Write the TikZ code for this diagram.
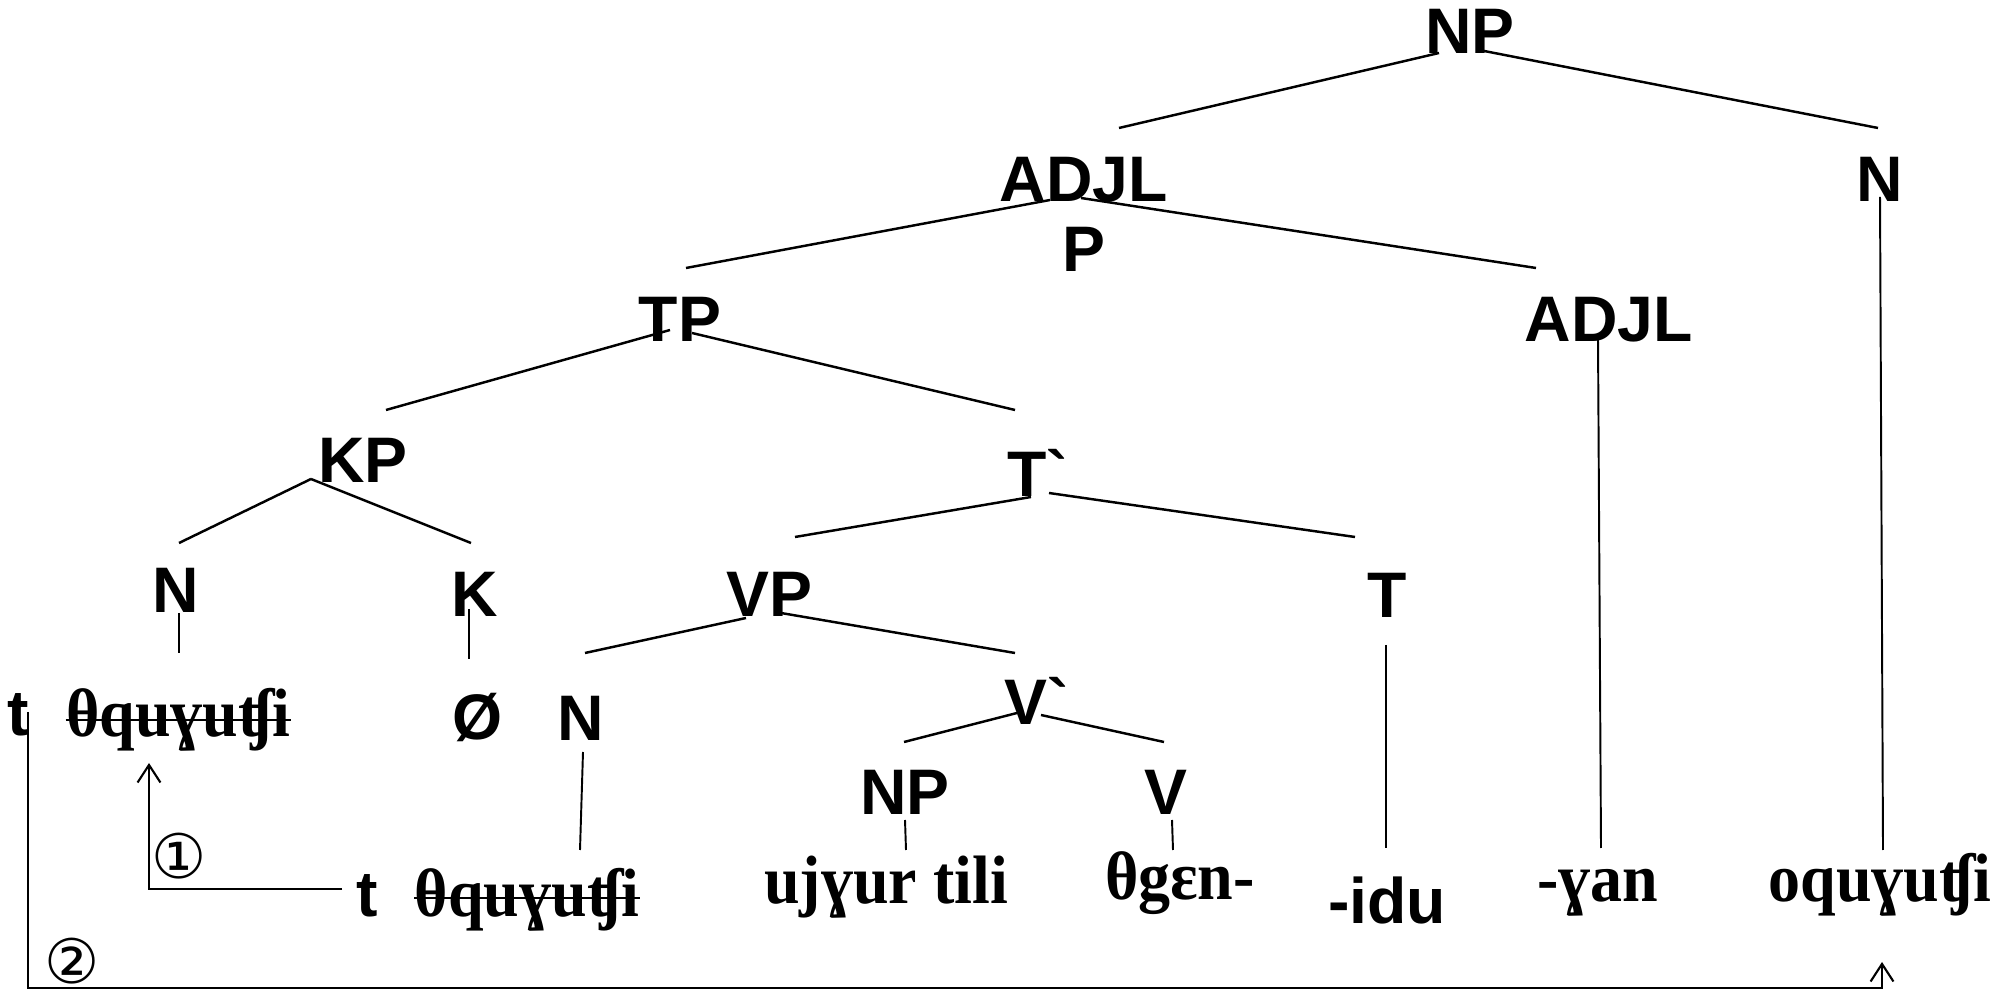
\documentclass[tikz,border=0pt]{standalone}
\usepackage{fontspec}
\setmainfont{Liberation Serif}
\newfontfamily\labfont{Liberation Sans}
\newfontfamily\circfont{DejaVu Sans}
\usetikzlibrary{arrows.meta}
\newcommand{\tallword}[1]{\scalebox{1}[1.07]{#1}}
\begin{document}
\begin{tikzpicture}[x=0.01cm,y=-0.01cm,
  lab/.style={font=\labfont\bfseries\fontsize{18.3}{22}\selectfont, inner sep=0pt, anchor=base},
  wd/.style={font=\bfseries\fontsize{18.2}{21}\selectfont, inner sep=0pt, anchor=base},
  circ/.style={font=\circfont\fontsize{17.5}{20}\selectfont, inner sep=0pt},
  br/.style={line width=0.7pt},
  vln/.style={line width=0.55pt},
  mv/.style={line width=0.6pt, -{Straight Barb[length=5pt,width=6.5pt]}},
  strike/.style={line width=0.75pt}]
\useasboundingbox (0,0) rectangle (2000,998);
% labels
\node[lab] (np) at (1470,54) {NP};
\node[lab, font=\labfont\bfseries\fontsize{18.3}{19.92}\selectfont] (adjlp) at (1084,272) {\begin{tabular}[b]{@{}c@{}}ADJL\\P\end{tabular}};
\node[lab] (nr) at (1880,202) {N};
\node[lab] (adjl) at (1609,342) {ADJL};
\node[lab] (tp) at (680,342) {TP};
\node[lab] (kp) at (363,483) {KP};
\node[lab] (tbar) at (1038,497) {T`};
\node[lab] (nl) at (176,613) {N};
\node[lab] (k) at (475,617) {K};
\node[lab] (vp) at (769,617) {VP};
\node[lab] (t) at (1387,618) {T};
\node[lab] (tl) at (18,736) {t};
\node[wd] (w1) at (178.5,737) {\tallword{θquɣuʧi}};
\node[lab] (zero) at (478,740) {Ø};
\node[lab] (nm) at (581,741) {N};
\node[lab] (vbar) at (1037,725) {V`};
\node[lab] (np2) at (905,815) {NP};
\node[lab] (v) at (1166,815) {V};
\node[lab] (tlow) at (367,917) {t};
\node[wd] (w2) at (527,917) {\tallword{θquɣuʧi}};
\node[wd] (w3) at (886,903) {\tallword{ujɣur tili}};
\node[wd] (w4) at (1180,900) {\tallword{θgɛn-}};
\node[lab] (w5) at (1387,923) {-idu};
\node[wd] (w6) at (1598,902) {\tallword{-ɣan}};
\node[wd] (w7) at (1880,902) {\tallword{oquɣuʧi}};
\node[circ] (c1) at (179,856) {①};
\node[circ] (c2) at (72,961) {②};
% tree branches
\draw[br] ([shift={(-31,-1)}]np.base) -- ([shift={(35,-144)}]adjlp.base);
\draw[br] ([shift={(9,-4)}]np.base) -- ([shift={(-2,-74)}]nr.base);
\draw[br] ([shift={(-34,-72)}]adjlp.base) -- ([shift={(6,-74)}]tp.base);
\draw[br] ([shift={(-3,-74)}]adjlp.base) -- ([shift={(-73,-74)}]adjl.base);
\draw[vln] ([shift={(0,-5)}]nr.base) -- ([shift={(3,-52)}]w7.base);
\draw[vln] ([shift={(-11,-2)}]adjl.base) -- ([shift={(3,-54)}]w6.base);
\draw[br] ([shift={(-10,-12)}]tp.base) -- ([shift={(23,-73)}]kp.base);
\draw[br] ([shift={(12,-9)}]tp.base) -- ([shift={(-23,-87)}]tbar.base);
\draw[br] ([shift={(-52,-4)}]kp.base) -- ([shift={(3,-70)}]nl.base);
\draw[br] ([shift={(-52,-4)}]kp.base) -- ([shift={(-4,-74)}]k.base);
\draw[br] ([shift={(-7,0)}]tbar.base) -- ([shift={(26,-80)}]vp.base);
\draw[br] ([shift={(11,-4)}]tbar.base) -- ([shift={(-32,-81)}]t.base);
\draw[vln] ([shift={(3,0)}]nl.base) -- ([shift={(0.5,-84)}]w1.base);
\draw[vln] ([shift={(-6,-8)}]k.base) -- ([shift={(-9,-81)}]zero.base);
\draw[br] ([shift={(-23,1)}]vp.base) -- ([shift={(4,-88)}]nm.base);
\draw[br] ([shift={(12,-4)}]vp.base) -- ([shift={(-22,-72)}]vbar.base);
\draw[vln] ([shift={(-1,27)}]t.base) -- ([shift={(-1,-75)}]w5.base);
\draw[vln] ([shift={(2,11)}]nm.base) -- ([shift={(53,-67)}]w2.base);
\draw[br] ([shift={(-20,-12)}]vbar.base) -- ([shift={(-1,-73)}]np2.base);
\draw[br] ([shift={(4,-10)}]vbar.base) -- ([shift={(-2,-73)}]v.base);
\draw[vln] ([shift={(0,5)}]np2.base) -- ([shift={(20,-53)}]w3.base);
\draw[vln] ([shift={(6,5)}]v.base) -- ([shift={(-7,-50)}]w4.base);
% strike-throughs
\draw[strike] ([shift={(0,-17)}]w1.base west) -- ([shift={(0,-17)}]w1.base east);
\draw[strike] ([shift={(0,-19)}]w2.base west) -- ([shift={(0,-19)}]w2.base east);
% movement arrows
\draw[mv] ([shift={(-25,-28)}]tlow.base) -| ([shift={(-29.5,26)}]w1.base);
\draw[mv] ([shift={(10,-24)}]tl.base) -- ++(0,276) -| ([shift={(2,60)}]w7.base);
\end{tikzpicture}
\end{document}
